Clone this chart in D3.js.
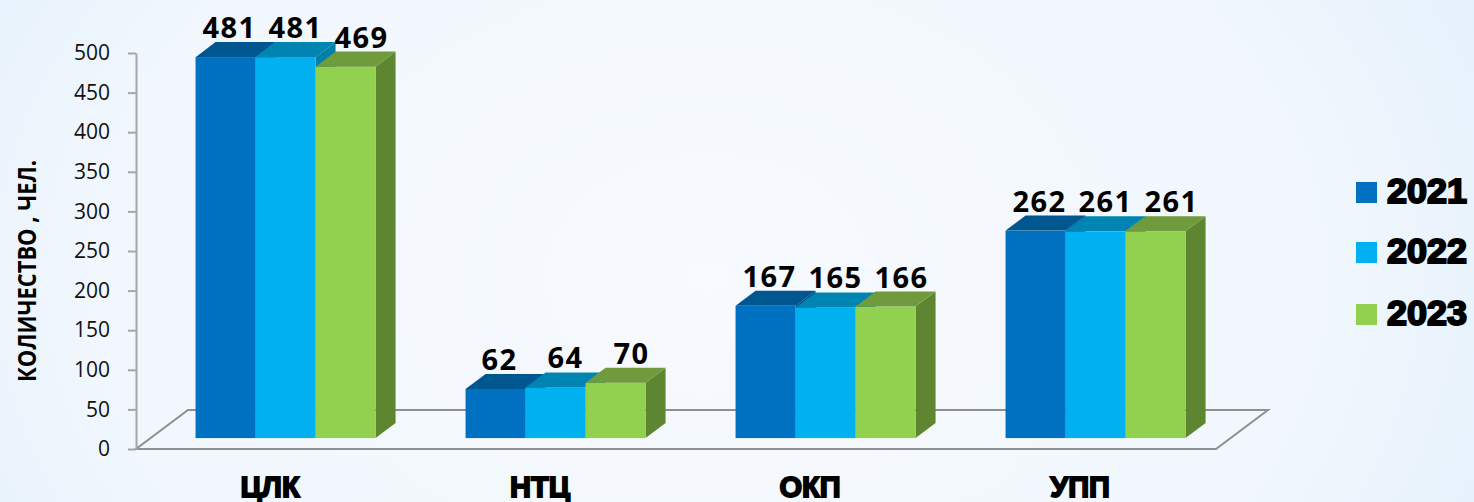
<!DOCTYPE html>
<html>
<head>
<meta charset="utf-8">
<script src="https://cdn.jsdelivr.net/npm/d3@7/dist/d3.min.js"></script>
<style>
  html, body { margin: 0; padding: 0; overflow: hidden; }
  svg { display: block; }
</style>
</head>
<body>
<svg id="chart" width="1474" height="502"></svg>
<script>
const categories = ["ЦЛК", "НТЦ", "ОКП", "УПП"];
const seriesNames = ["2021", "2022", "2023"];
const values2021 = [481, 62, 167, 262];
const values2022 = [481, 64, 165, 261];
const values2023 = [469, 70, 166, 261];
const yTicks = [0, 50, 100, 150, 200, 250, 300, 350, 400, 450, 500];
const yTitle = "КОЛИЧЕСТВО , ЧЕЛ.";

const seriesValues = [values2021, values2022, values2023];
const frontColors = ["#0070C0", "#00B0F0", "#92D050"];
const topColors = ["#00568E", "#0085B3", "#6F9B3D"];
const sideColors = ["#004F85", "#007FAB", "#5E8631"];

const W = 1474, H = 502;
const svg = d3.select("#chart");

// background gradient
const defs = svg.append("defs");
const grad = defs.append("radialGradient").attr("id", "bg")
  .attr("cx", "0.48").attr("cy", "0.55").attr("r", "0.75")
  .attr("gradientTransform", "translate(0.48,0.55) scale(1,2.2) translate(-0.48,-0.55)");
grad.append("stop").attr("offset", "0").attr("stop-color", "#f7fafe");
grad.append("stop").attr("offset", "0.55").attr("stop-color", "#f1f7fd");
grad.append("stop").attr("offset", "1").attr("stop-color", "#d9ebfb");
svg.append("rect").attr("width", W).attr("height", H).attr("fill", "url(#bg)");

// geometry
const x0 = 136, x1 = 1216, yBase = 449, yTop = 53;
const depth = {dx: 52, dy: -39};
const frontF = 0.28, barDepthF = 0.385;
const fdx = depth.dx * frontF, fdy = depth.dy * frontF;
const bdx = depth.dx * barDepthF, bdy = depth.dy * barDepthF;

const y = d3.scaleLinear().domain([0, 500]).range([yBase, yTop]);
const xBand = d3.scaleBand().domain(categories).range([x0, x1])
  .paddingInner(1/3).paddingOuter(1/6);
const xSub = d3.scaleBand().domain(seriesNames).range([0, xBand.bandwidth()]);

// floor
const floorCol = "#8f8f8f";
svg.append("path")
  .attr("d", `M${x0},${yBase} L${x1},${yBase} L${x1 + depth.dx},${yBase + depth.dy} L${x0 + depth.dx},${yBase + depth.dy} Z`)
  .attr("fill", "none").attr("stroke", floorCol).attr("stroke-width", 2);

// axis
const axis = d3.axisLeft(y).tickValues(yTicks).tickSize(8).tickPadding(18).tickSizeOuter(0);
const gAxis = svg.append("g").attr("transform", `translate(${x0},0)`).call(axis);
gAxis.select(".domain").attr("stroke", "#a6a6a6").attr("stroke-width", 2);
gAxis.selectAll(".tick line").attr("stroke", "#a6a6a6").attr("stroke-width", 2);
gAxis.selectAll(".tick text")
  .attr("font-family", "'Open Sans', sans-serif").attr("font-size", 21)
  .attr("fill", "#111");

// bars
const gBars = svg.append("g");
categories.forEach((cat, ci) => {
  seriesNames.forEach((s, si) => {
    const v = seriesValues[si][ci];
    const bx = xBand(cat) + xSub(s) + fdx;
    const bw = xSub.bandwidth();
    const bBot = y(0) + fdy;
    const bTop = y(v) + fdy;
    const g = gBars.append("g");
    g.append("path")
      .attr("d", `M${bx + bw},${bTop} L${bx + bw + bdx},${bTop + bdy} L${bx + bw + bdx},${bBot + bdy} L${bx + bw},${bBot} Z`)
      .attr("fill", sideColors[si]);
    g.append("rect").attr("x", bx).attr("y", bTop).attr("width", bw).attr("height", bBot - bTop)
      .attr("fill", frontColors[si]);
    g.append("path")
      .attr("d", `M${bx},${bTop} L${bx + bdx},${bTop + bdy} L${bx + bw + bdx},${bTop + bdy} L${bx + bw},${bTop} Z`)
      .attr("fill", topColors[si]);
  });
});

// value labels
categories.forEach((cat, ci) => {
  seriesNames.forEach((s, si) => {
    const v = seriesValues[si][ci];
    const cx = xBand(cat) + xSub(s) + fdx + xSub.bandwidth() / 2 + bdx / 2 + (si - 1) * 6;
    svg.append("text")
      .attr("x", cx).attr("y", y(v) + fdy - 19)
      .attr("text-anchor", "middle")
      .attr("font-family", "'Open Sans', sans-serif").attr("font-weight", 700)
      .attr("font-size", 29).attr("letter-spacing", 1.5).attr("fill", "#000")
      .text(v);
  });
});

// category labels
categories.forEach(cat => {
  svg.append("text")
    .attr("x", xBand(cat) + xBand.bandwidth() / 2 - 1).attr("y", 497)
    .attr("text-anchor", "middle")
    .attr("font-family", "'Liberation Sans', Arial, sans-serif").attr("font-weight", 700)
    .attr("font-size", 29).attr("fill", "#000")
    .attr("stroke", "#000").attr("stroke-width", 1.8)
    .text(cat);
});

// y title
svg.append("text")
  .attr("transform", "translate(36,271) rotate(-90)")
  .attr("text-anchor", "middle")
  .attr("font-family", "'Open Sans', sans-serif").attr("font-weight", 700)
  .attr("font-size", 25).attr("fill", "#000")
  .attr("textLength", 222).attr("lengthAdjust", "spacingAndGlyphs")
  .text(yTitle);

// legend
const legY = [182, 242, 304];
seriesNames.forEach((s, si) => {
  svg.append("rect").attr("x", 1356).attr("y", legY[si]).attr("width", 21).attr("height", 21)
    .attr("fill", frontColors[si]);
  svg.append("text").attr("x", 1387).attr("y", legY[si] + 21)
    .attr("font-family", "'Liberation Sans', Arial, sans-serif").attr("font-weight", 700)
    .attr("font-size", 35).attr("fill", "#000")
    .attr("stroke", "#000").attr("stroke-width", 2)
    .attr("textLength", 80).attr("lengthAdjust", "spacingAndGlyphs")
    .text(s);
});
</script>
</body>
</html>
